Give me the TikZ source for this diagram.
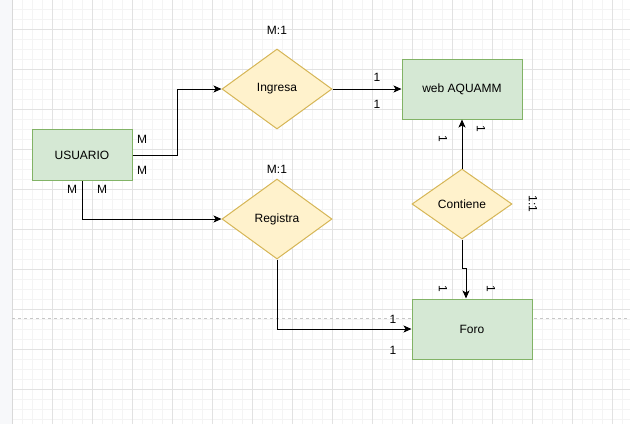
\documentclass[tikz,border=0pt]{standalone}
\usepackage{fontspec}
\setmainfont{Liberation Sans}
\usetikzlibrary{shapes.geometric,arrows.meta,positioning}
\definecolor{entfill}{HTML}{D5E8D4}
\definecolor{entline}{HTML}{82B366}
\definecolor{relfill}{HTML}{FFF2CC}
\definecolor{relline}{HTML}{D6B656}
\definecolor{gridmajor}{HTML}{E2E2E2}
\definecolor{gridminor}{HTML}{F4F4F4}
\definecolor{panelfill}{HTML}{F7F8FA}
\begin{document}
\begin{tikzpicture}[x=1pt,y=-1pt,
		ent/.style={draw=entline, fill=entfill, line width=1pt,
			minimum width=#1, minimum height=60pt, inner sep=0pt,
			font=\fontsize{12}{14}\selectfont},
		rel/.style 2 args={diamond, draw=relline, fill=relfill, line width=1pt,
			minimum width=#1, minimum height=#2, inner sep=0pt,
			font=\fontsize{12}{14}\selectfont},
		lbl/.style={inner sep=0pt, font=\fontsize{12}{14}\selectfont},
		arr/.style={-{Stealth[length=8pt,width=7pt,inset=2pt]}, line width=1pt}
		]
		\useasboundingbox (0,0) rectangle (630,424);
		% Canvas with grid
		\fill[white] (12,0) rectangle (630,424);
		\foreach \x in {12,22,...,622} \draw[gridminor, line width=0.8pt] (\x,0) -- (\x,424);
		\foreach \y in {9,19,...,419} \draw[gridminor, line width=0.8pt] (12,\y) -- (630,\y);
		\foreach \x in {52,92,...,612} \draw[gridmajor, line width=0.8pt] (\x,0) -- (\x,424);
		\foreach \y in {29,69,...,389} \draw[gridmajor, line width=0.8pt] (12,\y) -- (630,\y);
		\fill[panelfill] (0,0) rectangle (12,424);
		\draw[gray!30, line width=1pt] (12,0) -- (12,424);
		\draw[gray!45, dash pattern=on 3pt off 3pt] (12,318) -- (630,318);
		
		% Entities
		\node[ent=100pt, minimum height=51pt] (usuario) at (82,155) {USUARIO};
		\node[ent=120pt] (web)  at (462,89)  {web AQUAMM};
		\node[ent=120pt] (foro) at (472,329) {Foro};
		
		% Relations
		\node[rel={110pt}{80pt}] (ingresa)  at (277,89)  {Ingresa};
		\node[rel={110pt}{80pt}] (registra) at (277,219) {Registra};
		\node[rel={100pt}{70pt}] (contiene) at (462,204) {Contiene};
		
		% Arrows
		\draw[arr] (usuario.east) -- ++(45,0) |- (ingresa.west);
		\draw[arr] (usuario.south) |- (registra.west);
		\draw[arr] (ingresa.east) -- (web.west);
		\draw[arr] (registra.south) |- (foro.west);
		\draw[arr] (contiene.north) -- (web.south);
		\draw[arr] (contiene.south) -- ++(0,29) -| ([xshift=-6pt]foro.north);
		
		% Cardinalities
		\node[lbl] (cIng)  at (277,30)  {M:1};
		\node[lbl] (cReg)  at (277,169) {M:1};
		\node[lbl] (uA)    at (142,139) {M};
		\node[lbl] (uB)    at (142,170) {M};
		\node[lbl] (uC)    at (72,189)  {M};
		\node[lbl] (uD)    at (102,189) {M};
		\node[lbl] (wA)    at (377,77)  {1};
		\node[lbl] (wB)    at (377,104) {1};
		\node[lbl] (fA)    at (393,319) {1};
		\node[lbl] (fB)    at (393,350) {1};
		\node[lbl, rotate=-90] (kA) at (443,139) {1};
		\node[lbl, rotate=-90] (kB) at (481,129) {1};
		\node[lbl, rotate=-90] (kC) at (443,289) {1};
		\node[lbl, rotate=-90] (kD) at (491,289) {1};
		\node[lbl, rotate=-90] (cCon) at (533,204) {1:1};
	\end{tikzpicture}
\end{document}
